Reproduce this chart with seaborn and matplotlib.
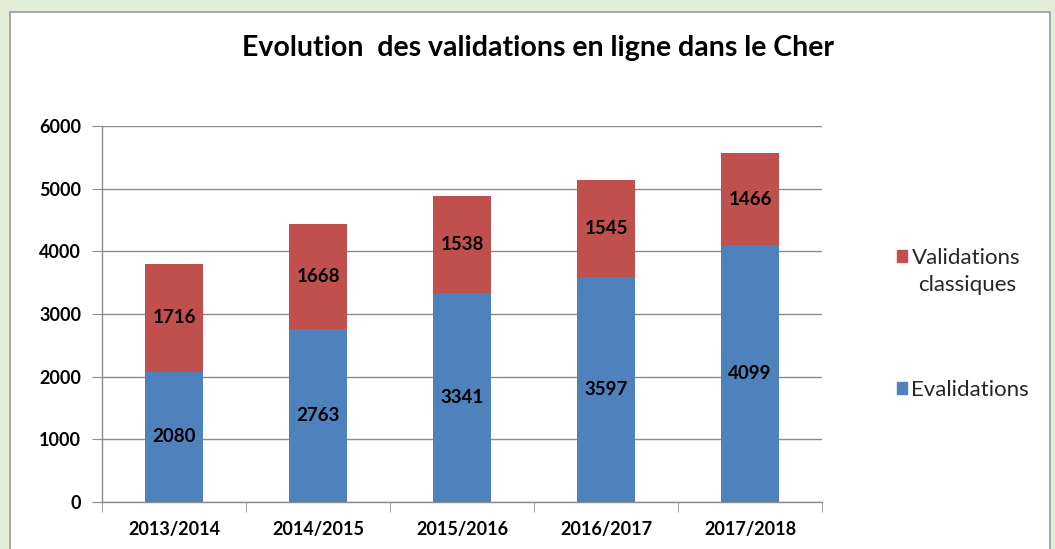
import matplotlib
matplotlib.use('Agg')
import matplotlib.pyplot as plt
import matplotlib.patches as mpatches
import seaborn as sns
import pandas as pd

# Données
annees = ['2013/2014', '2014/2015', '2015/2016', '2016/2017', '2017/2018']
evalidations = [2080, 2763, 3341, 3597, 4099]
classiques = [1716, 1668, 1538, 1545, 1466]

BLEU = '#4F81BD'
ROUGE = '#C0504D'
GRIS = '#8C8C8C'

sns.set_style('white')
plt.rcParams['font.family'] = ['Lato', 'DejaVu Sans']
plt.rcParams['text.color'] = 'black'
plt.rcParams['xtick.color'] = 'black'
plt.rcParams['ytick.color'] = 'black'

df = pd.DataFrame({'annee': annees, 'Evalidations': evalidations,
                   'Validations classiques': classiques})
df['total'] = df['Evalidations'] + df['Validations classiques']

fig = plt.figure(figsize=(10.55, 5.49), dpi=100)
fig.patch.set_facecolor('#E2EED8')
cadre = mpatches.Rectangle((10 / 1055, -0.01), 1040 / 1055, 1 - 12 / 549 + 0.01,
                           transform=fig.transFigure, facecolor='white',
                           edgecolor='#9A9A9A', linewidth=1.2, zorder=-10)
fig.patches.append(cadre)

ax = fig.add_axes([102 / 1055, 1 - 502 / 549, 720 / 1055, 376 / 549])
ax.set_facecolor('none')

# Barres empilées : total en rouge, puis Evalidations en bleu par-dessus
sns.barplot(data=df, x='annee', y='total', color=ROUGE, width=0.4,
            saturation=1, linewidth=0, ax=ax, zorder=3)
sns.barplot(data=df, x='annee', y='Evalidations', color=BLEU, width=0.4,
            saturation=1, linewidth=0, ax=ax, zorder=4)

for i, (b, r) in enumerate(zip(evalidations, classiques)):
    ax.text(i, b / 2, str(b), ha='center', va='center', fontsize=13.5,
            fontweight='bold', color='black', zorder=5)
    ax.text(i, b + r / 2, str(r), ha='center', va='center', fontsize=13.5,
            fontweight='bold', color='black', zorder=5)

ax.set_ylim(0, 6000)
ax.set_xlim(-0.5, len(annees) - 0.5)
ax.set_yticks(range(0, 6001, 1000))
ax.yaxis.grid(True, color=GRIS, linewidth=1)
ax.set_axisbelow(True)
ax.set_xlabel('')
ax.set_ylabel('')

for s in ['top', 'right']:
    ax.spines[s].set_visible(False)
for s in ['left', 'bottom']:
    ax.spines[s].set_color(GRIS)
    ax.spines[s].set_linewidth(1)

ax.tick_params(axis='y', which='both', left=True, length=7, color=GRIS,
               labelcolor='black', labelsize=13, pad=8)
ax.tick_params(axis='x', which='major', bottom=False, labelcolor='black',
               labelsize=13, pad=10)
for lab in ax.get_yticklabels() + ax.get_xticklabels():
    lab.set_fontweight('bold')
# graduations entre les catégories
ax.set_xticks([i + 0.5 for i in range(-1, len(annees))], minor=True)
ax.tick_params(axis='x', which='minor', bottom=True, length=7, color=GRIS)

fig.text(538 / 1055, 1 - 48 / 549, 'Evolution  des validations en ligne dans le Cher',
         ha='center', va='center', fontsize=20.5, fontweight='bold', color='black')

# Légende à droite
opts = dict(loc='center left', frameon=False, fontsize=16, handlelength=0.45,
            handleheight=0.45, handletextpad=0.2, labelcolor='#262626',
            borderaxespad=0, borderpad=0)
fig.legend(handles=[mpatches.Patch(color=ROUGE, label='Validations')],
           bbox_to_anchor=(897 / 1055, 1 - 258 / 549), **opts)
fig.text(967 / 1055, 1 - 285 / 549, 'classiques', ha='center', va='center',
         fontsize=16, color='#262626')
fig.legend(handles=[mpatches.Patch(color=BLEU, label='Evalidations')],
           bbox_to_anchor=(897 / 1055, 1 - 390 / 549), **opts)

fig.savefig('out.png', dpi=100, facecolor=fig.get_facecolor())
